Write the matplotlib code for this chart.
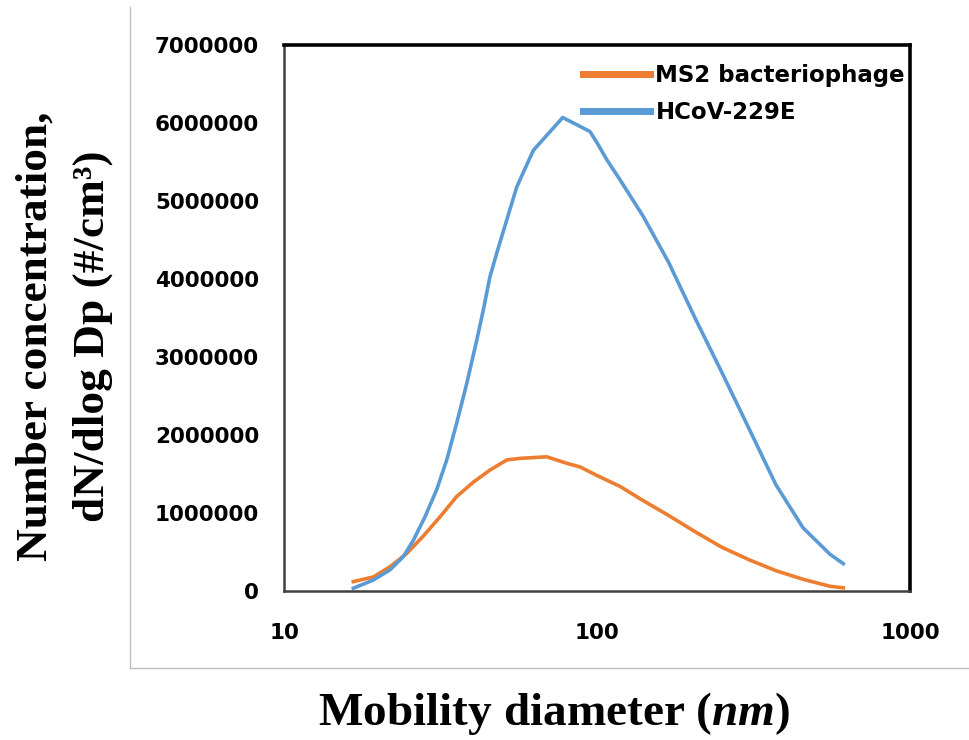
import matplotlib
matplotlib.use("Agg")
import matplotlib.pyplot as plt
from matplotlib.lines import Line2D
import numpy as np

# SMPS size distributions
hcov_dp = [16.65, 19.29, 21.8, 24.05, 25.9, 28.2, 30.75, 33.1, 35.6, 38.35,
           41.3, 43.3, 45.5, 47.8, 51.5, 55.4, 62.6, 77.7, 95.0, 100.9,
           107.4, 118.5, 140.6, 169, 205.6, 250.6, 306, 373, 455, 555, 612]
hcov_conc = [0.035e6, 0.14e6, 0.27e6, 0.44e6, 0.65e6, 0.95e6, 1.30e6, 1.68e6,
             2.15e6, 2.66e6, 3.22e6, 3.60e6, 4.03e6, 4.33e6, 4.76e6, 5.18e6,
             5.65e6, 6.07e6, 5.89e6, 5.72e6, 5.53e6, 5.27e6, 4.80e6, 4.22e6,
             3.50e6, 2.80e6, 2.08e6, 1.36e6, 0.81e6, 0.47e6, 0.35e6]

ms2_dp = [16.65, 19.29, 21.8, 24.65, 27.8, 31.5, 35.6, 40.4, 45.5, 51.5, 56.8,
          69.1, 79.6, 88.3, 100, 118.5, 138.8, 169, 205.6, 250.6, 306, 373,
          455, 555, 612]
ms2_conc = [0.12e6, 0.18e6, 0.31e6, 0.48e6, 0.70e6, 0.95e6, 1.21e6, 1.40e6,
            1.55e6, 1.68e6, 1.70e6, 1.72e6, 1.64e6, 1.59e6, 1.48e6, 1.34e6,
            1.17e6, 0.97e6, 0.76e6, 0.56e6, 0.40e6, 0.26e6, 0.15e6, 0.06e6,
            0.04e6]

yticks = [0, 1000000, 2000000, 3000000, 4000000, 5000000, 6000000, 7000000]
xticks = [10, 100, 1000]

orange = '#ED7D31'
blue = '#5B9BD5'

plt.rcParams['mathtext.fontset'] = 'custom'
plt.rcParams['mathtext.it'] = 'Liberation Serif:italic:bold'
plt.rcParams['mathtext.rm'] = 'Liberation Serif:bold'

fig = plt.figure(figsize=(9.7, 7.4), dpi=100)
ax = fig.add_axes([0.2928, 0.2014, 0.6454, 0.7378])

ax.plot(ms2_dp, ms2_conc, color=orange, lw=2.6, label='MS2 bacteriophage')
ax.plot(hcov_dp, hcov_conc, color=blue, lw=2.6, label='HCoV-229E')

ax.set_xscale('log')
ax.set_xlim(10, 1000)
ax.set_ylim(0, 7000000)
ax.set_xticks(xticks)
ax.set_xticklabels([str(t) for t in xticks])
ax.xaxis.set_minor_locator(matplotlib.ticker.NullLocator())
ax.set_yticks(yticks)
ax.set_yticklabels([str(t) for t in yticks])
ax.tick_params(axis='both', length=0, labelsize=15.5)
ax.tick_params(axis='y', pad=18)
ax.tick_params(axis='x', pad=23)
for lab in ax.get_xticklabels() + ax.get_yticklabels():
    lab.set_fontweight('bold')

for side in ['top', 'right']:
    ax.spines[side].set_linewidth(2.6)
    ax.spines[side].set_color('black')
for side in ['left', 'bottom']:
    ax.spines[side].set_linewidth(1.8)
    ax.spines[side].set_color('#404040')

leg = ax.legend(loc='upper left', bbox_to_anchor=(0.478, 0.966), frameon=False,
                borderpad=0, borderaxespad=0, handlelength=2.9,
                handletextpad=0.25, labelspacing=0.62,
                prop={'weight': 'bold', 'size': 16.5})
for h in leg.get_lines():
    h.set_linewidth(5)

fig.text(0.037, 0.545, 'Number concentration,', rotation=90, ha='center',
         va='center', family='Liberation Serif', fontweight='bold', fontsize=32.6)
fig.text(0.096, 0.545, 'dN/dlog Dp (#/cm\u00b3)', rotation=90,
         ha='center', va='center', family='Liberation Serif',
         fontweight='bold', fontsize=32.6)
fig.text(0.571, 0.02, r'Mobility diameter ($nm$)', ha='center',
         va='baseline', family='Liberation Serif', fontweight='bold',
         fontsize=34)

# light chart-area border (left and bottom edges)
fig.add_artist(Line2D([130 / 970, 130 / 970], [1 - 7 / 740, 1 - 668 / 740],
                      color='#BFBFBF', lw=1))
fig.add_artist(Line2D([130 / 970, 1.0], [1 - 668 / 740, 1 - 668 / 740],
                      color='#BFBFBF', lw=1))

fig.savefig('out.png', dpi=100)
